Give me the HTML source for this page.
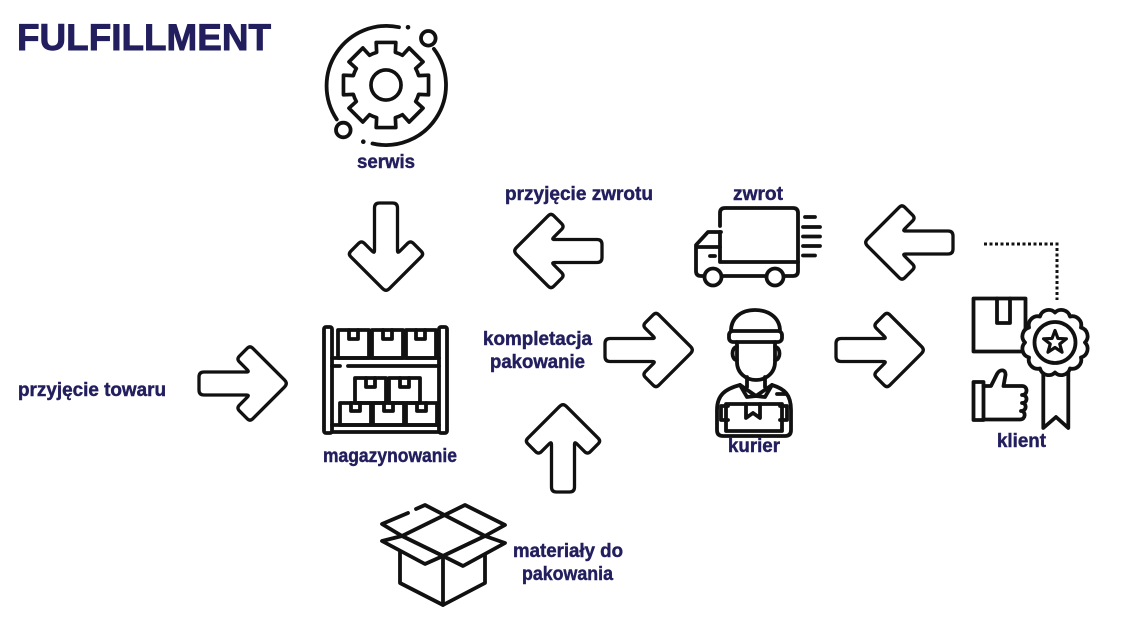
<!DOCTYPE html>
<html><head><meta charset="utf-8"><style>
html,body{margin:0;padding:0;background:#fff;}
svg{display:block;}
text{font-family:"Liberation Sans",Arial,sans-serif;font-weight:bold;fill:#231f5e;stroke:#231f5e;stroke-width:0.45;}
</style></head><body>
<svg width="1129" height="640" viewBox="0 0 1129 640" xmlns="http://www.w3.org/2000/svg">
<defs>
<path id="arr" d="M0,-6.5 Q0,-11.5 5,-11.5 L47.5,-11.5 Q50.5,-11.5 48.38,-13.62 L40.33,-21.67 Q37.5,-24.5 40.33,-27.33 L48.17,-35.17 Q51,-38 53.83,-35.17 L85.46,-3.54 Q89,0 85.46,3.54 L53.83,35.17 Q51,38 48.17,35.17 L40.33,27.33 Q37.5,24.5 40.33,21.67 L48.38,13.62 Q50.5,11.5 47.5,11.5 L5,11.5 Q0,11.5 0,6.5 Z" fill="#fff" stroke="#111" stroke-width="3.3" stroke-linejoin="round"/>
</defs>

<!-- Title -->
<text x="17" y="50" font-size="37" textLength="254" lengthAdjust="spacingAndGlyphs" style="stroke-width:0.9">FULFILLMENT</text>

<!-- Arrows -->
<use href="#arr" transform="translate(386,203) rotate(90)"/>
<use href="#arr" transform="translate(602,251) rotate(180)"/>
<use href="#arr" transform="translate(953,242.5) rotate(180)"/>
<use href="#arr" transform="translate(199,383.5)"/>
<use href="#arr" transform="translate(605,350)"/>
<use href="#arr" transform="translate(563,492) rotate(-90)"/>
<use href="#arr" transform="translate(836,350)"/>

<g fill="none" stroke="#111" stroke-width="3.8" stroke-linecap="round" stroke-linejoin="round">
<!-- Serwis icon -->
<path d="M433.9,48.9 A60,60 0 0 1 372.5,143.5"/>
<path d="M336.8,119.4 A60,60 0 0 1 399,27.2"/>
<circle cx="428.3" cy="38.3" r="7.3"/>
<circle cx="343.3" cy="130" r="7.3"/>
<g transform="translate(386,85) scale(0.97)">
<path d="M33.65,-9.65 L43.85,-10.13 L43.85,10.13 L33.65,9.65 A35,35 0 0 1 30.61,16.97 L38.16,23.85 L23.85,38.16 L16.97,30.61 A35,35 0 0 1 9.65,33.65 L10.13,43.85 L-10.13,43.85 L-9.65,33.65 A35,35 0 0 1 -16.97,30.61 L-23.85,38.16 L-38.16,23.85 L-30.61,16.97 A35,35 0 0 1 -33.65,9.65 L-43.85,10.13 L-43.85,-10.13 L-33.65,-9.65 A35,35 0 0 1 -30.61,-16.97 L-38.16,-23.85 L-23.85,-38.16 L-16.97,-30.61 A35,35 0 0 1 -9.65,-33.65 L-10.13,-43.85 L10.13,-43.85 L9.65,-33.65 A35,35 0 0 1 16.97,-30.61 L23.85,-38.16 L38.16,-23.85 L30.61,-16.97 A35,35 0 0 1 33.65,-9.65 Z"/>
<circle cx="0" cy="0" r="15.5"/>
</g>

<!-- Shelf icon -->
<rect x="324" y="327" width="8" height="106" rx="2"/>
<rect x="439" y="327" width="8" height="106" rx="2"/>
<path d="M332,358 L439,358 M332,366 L340,366 M348,366 L439,366 M332,425 L439,425 M332,432 L439,432"/>
<rect x="338" y="330" width="31" height="28"/>
<rect x="372" y="330" width="31" height="28"/>
<rect x="406" y="330" width="30" height="28"/>
<path d="M349,330 V339 H358 V330 M383,330 V339 H392 V330 M416,330 V339 H425 V330"/>
<rect x="355" y="378" width="31" height="25"/>
<rect x="389" y="378" width="31" height="25"/>
<path d="M366,378 V387 H375 V378 M400,378 V387 H409 V378"/>
<rect x="340" y="403" width="31" height="22"/>
<rect x="373" y="403" width="31" height="22"/>
<rect x="406" y="403" width="31" height="22"/>
<path d="M351,403 V411 H360 V403 M384,403 V411 H393 V403 M417,403 V411 H426 V403"/>

<!-- Truck -->
<path d="M720,226 L720,213 Q720,208 725,208 L793,208 Q798,208 798,213 L798,271 Q798,276 793,276 L784,276"/>
<path d="M720,232 L720,262 L798,262"/>
<path d="M721,232 L708,232 L696,245 L696,271 Q696,276 701,276 L704,276"/>
<path d="M697,247 L720,247"/>
<path d="M710,256 L715,256"/>
<path d="M722,276 L766,276"/>
<circle cx="713" cy="277" r="8.5"/>
<circle cx="775" cy="277" r="8.5"/>
<path d="M805,217 L815,217 M803,227 L820,227 M803,236.5 L820,236.5 M803,246 L820,246 M803,255.5 L815,255.5"/>

<!-- Courier -->
<path d="M731,331 C731,318 741,310 755,310 C769,310 780,318 780,331"/>
<rect x="729" y="331" width="53" height="11" rx="4"/>
<path d="M737,342 L737,362 C737,373 746,380 756,380 C766,380 775,373 775,362 L775,342"/>
<path d="M737,347 C731,347 731,360 737,360 M775,347 C781,347 781,360 775,360"/>
<path d="M747,377 L747,387 M765,377 L765,387"/>
<path d="M740,385 L756,396 L772,385 M740,385 L747,397 L756,396 L765,397 L772,385"/>
<path d="M740,385 C725,389 717,395 717,410 L717,430 Q717,436 723,436 L785,436 Q791,436 791,430 L791,410 C791,395 785,389 772,385"/>
<rect x="726" y="404" width="56" height="27"/>
<path d="M746,404 V418 L753,413 L760,418 V404"/>
<path d="M728,406 L721,406 L721,420 L728,420 M780,406 L787,406 L787,420 L780,420"/>
<path d="M777,394 L786,394"/>

<!-- Client -->
<rect x="973.5" y="298.5" width="52" height="53"/>
<path d="M997,298.5 V323 H1010 V298.5"/>
<path d="M1043.3,372 L1043.3,428 L1056,417 L1068.3,428 L1068.3,372" fill="#fff"/>
<g transform="translate(1055,342.5)">
<path fill="#fff" d="M30,0 A9,9 0 0 1 25.98,15 A9,9 0 0 1 15,25.98 A9,9 0 0 1 0,30 A9,9 0 0 1 -15,25.98 A9,9 0 0 1 -25.98,15 A9,9 0 0 1 -30,0 A9,9 0 0 1 -25.98,-15 A9,9 0 0 1 -15,-25.98 A9,9 0 0 1 0,-30 A9,9 0 0 1 15,-25.98 A9,9 0 0 1 25.98,-15 A9,9 0 0 1 30,0 Z"/>
<circle cx="0" cy="0" r="20.5"/>
<path stroke-width="3.2" d="M0,-12 L2.94,-4.05 L11.41,-3.71 L4.76,1.55 L7.05,9.71 L0,5 L-7.05,9.71 L-4.76,1.55 L-11.41,-3.71 L-2.94,-4.05 Z"/>
</g>
<rect x="973.5" y="382" width="10" height="38"/>
<path d="M983.5,386 L991,386 L997,374 C999.5,369 1006,369 1005.5,375 L1003.5,386 L1022,386 C1028,386 1028,395 1022,395 C1028,395 1028,403 1022,403 C1027,403 1027,411 1021,411 C1026,411 1026,419.5 1020,419.5 L983.5,419.5"/>

<!-- Open box -->
<path d="M400,551 L400,583 L443,605 L485,583 L485,551"/>
<path d="M443,556 L443,605"/>
<!-- back flaps (side edges collinear with opening, forming X at top corner) -->
<path d="M402,536 L382,524 L408,513 M416,509 L425,505 L485,536"/>
<path d="M485,536 L505,525 L465,505 L402,536"/>
<!-- opening front edges -->
<path d="M402,536 L443,556 L485,536"/>
<!-- front flaps -->
<path fill="#fff" d="M402,536 L443,556 L425,564 L382,541 Z"/>
<path fill="#fff" d="M443,556 L485,536 L505,543 L463,566 Z"/>
</g>

<!-- dotted connector -->
<path d="M984,244 L1057,244 L1057,300" fill="none" stroke="#111" stroke-width="3" stroke-dasharray="3,2.5"/>

<!-- small dots of serwis -->
<circle cx="408" cy="27.3" r="2.3" fill="#111"/>
<circle cx="363.3" cy="141.7" r="2.3" fill="#111"/>

<!-- Labels -->
<g font-size="19">
<text x="357" y="168" textLength="58" lengthAdjust="spacingAndGlyphs">serwis</text>
<text x="505" y="200" textLength="148" lengthAdjust="spacingAndGlyphs">przyjęcie zwrotu</text>
<text x="733" y="200" textLength="50" lengthAdjust="spacingAndGlyphs">zwrot</text>
<text x="483" y="345" textLength="109" lengthAdjust="spacingAndGlyphs">kompletacja</text>
<text x="490" y="368" textLength="95" lengthAdjust="spacingAndGlyphs">pakowanie</text>
<text x="18" y="396" textLength="148" lengthAdjust="spacingAndGlyphs">przyjęcie towaru</text>
<text x="323" y="462" textLength="134" lengthAdjust="spacingAndGlyphs">magazynowanie</text>
<text x="728" y="452" textLength="52" lengthAdjust="spacingAndGlyphs">kurier</text>
<text x="997" y="447" textLength="49" lengthAdjust="spacingAndGlyphs">klient</text>
<text x="513" y="557" textLength="110" lengthAdjust="spacingAndGlyphs">materiały do</text>
<text x="522" y="580" textLength="91" lengthAdjust="spacingAndGlyphs">pakowania</text>
</g>
</svg>
</body></html>
